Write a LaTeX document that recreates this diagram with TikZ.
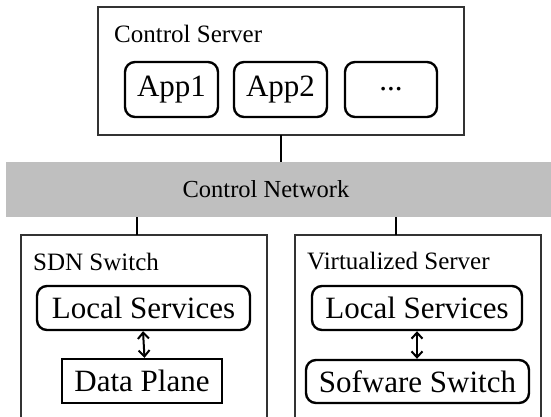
\documentclass[tikz,border=0pt]{standalone}
\usepackage{fontspec}
\setmainfont{Liberation Serif}
\usetikzlibrary{arrows.meta}
\begin{document}
\begin{tikzpicture}[x=1pt,y=-1pt,
  outerbox/.style={draw=black!80,line width=1.2pt,inner sep=0pt,outer sep=0pt},
  title/.style={inner sep=0pt,anchor=base west,font=\fontsize{25}{30}\selectfont},
  rbox/.style={draw,line width=2.4pt,rounded corners=10pt,inner sep=0pt,minimum height=55pt,font=\fontsize{31}{36}\selectfont},
  sbox/.style={draw,line width=2.4pt,inner sep=0pt,minimum height=44pt,font=\fontsize{31}{36}\selectfont},
  link/.style={line width=2pt},
  dbl/.style={line width=2pt,{Straight Barb[length=6pt,width=11pt,line width=2pt]}-{Straight Barb[length=6pt,width=11pt,line width=2pt]}}]
\useasboundingbox (0,0) rectangle (551,416);
\clip (0,0) rectangle (551,416);
% network band
\node[fill=gray!50,inner sep=0pt,minimum width=545pt,minimum height=55pt] (net) at (278.5,189.5) {};
\node[inner sep=0pt,font=\fontsize{24.5}{30}\selectfont] (netlabel) at (266,189.5) {Control Network};
% control server
\node[outerbox,minimum width=366pt,minimum height=128pt] (cs) at (281,71) {};
\node[title] (cst) at (114,42) {Control Server};
\node[rbox,minimum width=93pt] (app1) at (171.5,89.5) {App1};
\node[rbox,minimum width=93pt] (app2) at (280.5,89.5) {App2};
\node[rbox,minimum width=92pt] (dots) at (391,89.5) {...};
% SDN switch
\node[outerbox,minimum width=246pt,minimum height=200pt] (sdn) at (144,335) {};
\node[title] (sdnt) at (33,270) {SDN Switch};
\node[sbox,rounded corners=10pt,minimum width=213pt] (ls1) at (143.5,308) {Local Services};
\node[sbox,minimum width=160pt] (dp) at (142,381) {Data Plane};
% Virtualized server
\node[outerbox,minimum width=246pt,minimum height=200pt] (vs) at (418,335) {};
\node[title] (vst) at (307,269) {Virtualized Server};
\node[sbox,rounded corners=10pt,minimum width=210pt] (ls2) at (417,308) {Local Services};
\node[sbox,rounded corners=10pt,minimum width=223pt,minimum height=43pt] (sw) at (417.5,381.5) {Sofware Switch};
% connectors
\draw[link] (cs.south) -- (cs.south |- net.north);
\draw[link] ([xshift=-7pt]sdn.north) -- ([xshift=-7pt]sdn.north |- net.south);
\draw[link] ([xshift=-22pt]vs.north) -- ([xshift=-22pt]vs.north |- net.south);
\draw[dbl] ([xshift=-0.5pt]ls1.south) -- ([xshift=1pt]ls1.south |- dp.north);
\draw[dbl] (ls2.south) -- (ls2.south |- sw.north);
\end{tikzpicture}
\end{document}
